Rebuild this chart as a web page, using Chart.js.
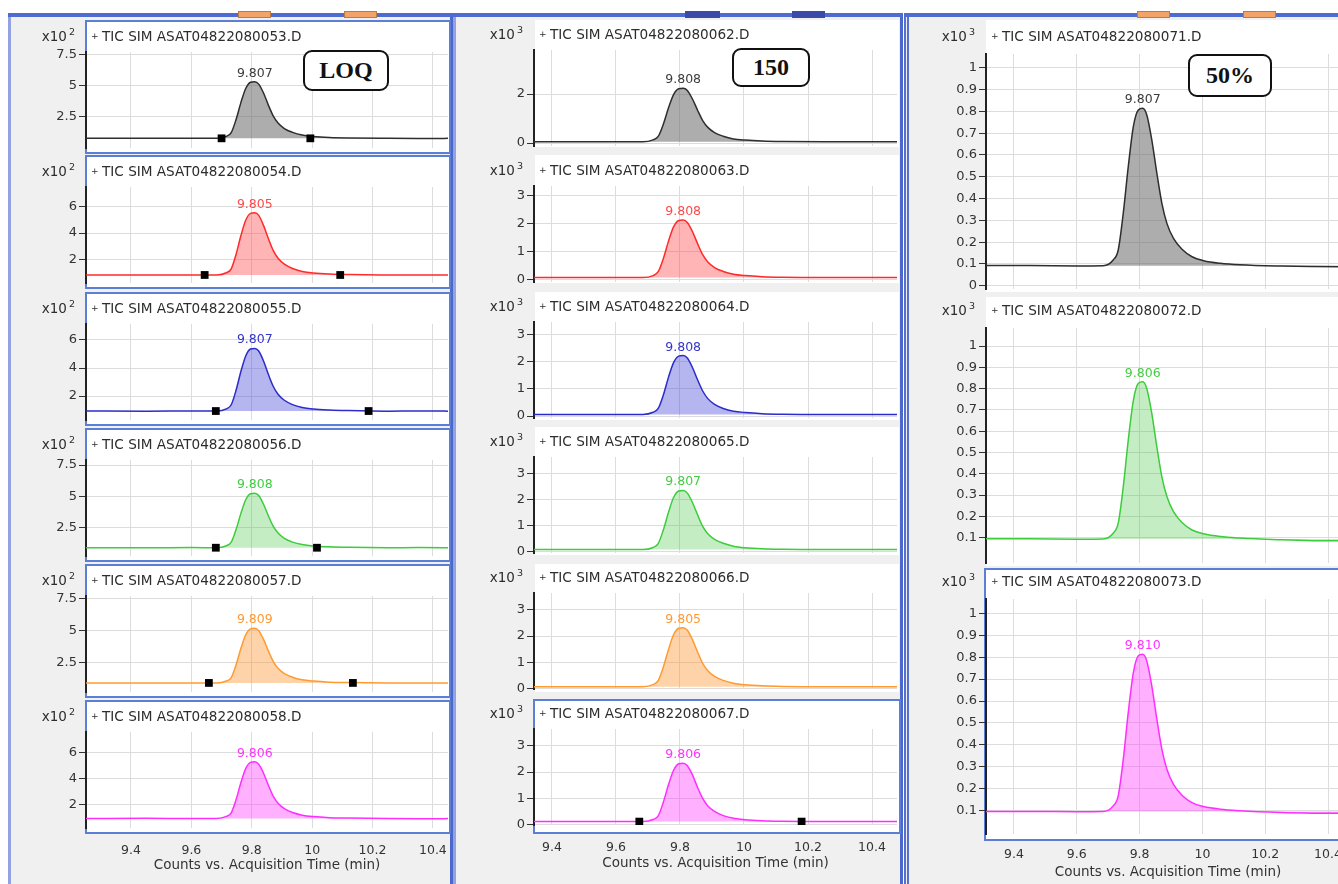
<!DOCTYPE html>
<html><head><meta charset="utf-8">
<script src="https://cdn.jsdelivr.net/npm/chart.js@4.4.1/dist/chart.umd.min.js"></script>
<style>
html,body{margin:0;padding:0;background:#fff;width:1338px;height:884px;overflow:hidden;position:relative;font-family:"DejaVu Sans",sans-serif;}
.col{position:absolute;top:13px;height:880px;background:#f0f0f0;box-sizing:border-box;}
.bar{position:absolute;top:13px;height:4px;background:#4d6bd1;}
.tab{position:absolute;top:11px;height:7px;background:#f2a468;border:1px solid #c07a40;box-sizing:border-box;}
.tabd{position:absolute;top:11px;height:7px;background:#3a4aa8;}
.box{position:absolute;background:#fff;box-sizing:border-box;}
.bb{border:2px solid #5b7fd4;}
canvas{position:absolute;}
.note{position:absolute;z-index:5;box-sizing:border-box;border:2px solid #111;border-radius:9px;background:#fff;font:bold 24px "Liberation Serif",serif;color:#111;display:flex;align-items:center;justify-content:center;}
</style></head><body>
<div class="col" style="left:8px;width:445px;border-left:3px solid #94a2e2;border-right:3px solid #4d68cc;"></div>
<div class="col" style="left:453px;width:450px;border-left:3px solid #94a2e2;border-right:3px solid #4d68cc;"></div>
<div class="col" style="left:904px;width:440px;border-left:5px double #5670d0;"></div>
<div class="bar" style="left:8px;width:445px"></div>
<div class="bar" style="left:453px;width:450px"></div>
<div class="bar" style="left:904px;width:440px"></div>
<div class="tab" style="left:238px;width:33px"></div>
<div class="tab" style="left:344px;width:33px"></div>
<div class="tabd" style="left:685px;width:35px"></div>
<div class="tabd" style="left:792px;width:33px"></div>
<div class="tab" style="left:1137px;width:33px"></div>
<div class="tab" style="left:1243px;width:33px"></div>
<div id="boxes"></div>
<div class="note" style="left:303px;top:50px;width:86px;height:41px;">LOQ</div>
<div class="note" style="left:732px;top:48px;width:78px;height:39px;">150</div>
<div class="note" style="left:1188px;top:54px;width:84px;height:43px;">50%</div>
<script>
// ---------------- DATA ----------------
const times = [9.25, 9.45, 9.60, 9.684, 9.716, 9.732, 9.748, 9.764, 9.78, 9.796, 9.81, 9.823, 9.839, 9.855, 9.871, 9.887, 9.908, 9.935, 9.967, 10.004, 10.057, 10.12, 10.25, 10.35, 10.48];
const xTicks = [9.4, 9.6, 9.8, 10, 10.2, 10.4];
const xTickLabels = ['9.4', '9.6', '9.8', '10', '10.2', '10.4'];
const xAxisTitle = 'Counts vs. Acquisition Time (min)';

// LOQ column (x10^2)
const loqTitles = ['+ TIC SIM ASAT04822080053.D', '+ TIC SIM ASAT04822080054.D', '+ TIC SIM ASAT04822080055.D', '+ TIC SIM ASAT04822080056.D', '+ TIC SIM ASAT04822080057.D', '+ TIC SIM ASAT04822080058.D'];
const loqPeakLabels = ['9.807', '9.805', '9.807', '9.808', '9.809', '9.806'];
const loqColors = ['grey', 'red', 'blue', 'green', 'orange', 'magenta'];
const loqExp = 2;
const loqYTicks = [[2.5, 5, 7.5], [2, 4, 6], [2, 4, 6], [2.5, 5, 7.5], [2.5, 5, 7.5], [2, 4, 6]];
const loqBaselines = [0.78, 0.81, 0.93, 0.90, 0.93, 0.97];
const loqMarkers = [[9.70, 9.994], [9.644, 10.093], [9.681, 10.187], [9.681, 10.016], [9.658, 10.135], []];
const s053 = [0.78,0.79,0.78,0.78,0.94,1.24,2.29,3.66,4.80,5.30,5.35,5.15,4.43,3.46,2.59,2.01,1.57,1.26,1.04,0.93,0.85,0.81,0.78,0.77,0.78];
const s054 = [0.81,0.81,0.80,0.81,0.98,1.28,2.37,3.79,4.97,5.49,5.54,5.34,4.58,3.59,2.68,2.08,1.63,1.30,1.08,0.96,0.88,0.84,0.81,0.80,0.81];
const s055 = [0.93,0.92,0.93,0.93,1.09,1.38,2.41,3.75,4.86,5.36,5.40,5.21,4.50,3.55,2.70,2.13,1.70,1.39,1.18,1.07,1.00,0.96,0.92,0.93,0.92];
const s056 = [0.90,0.90,0.91,0.90,1.06,1.34,2.34,3.64,4.73,5.21,5.25,5.06,4.37,3.45,2.62,2.07,1.65,1.35,1.15,1.04,0.97,0.93,0.90,0.91,0.90];
const s057 = [0.93,0.92,0.93,0.93,1.08,1.35,2.33,3.60,4.66,5.13,5.17,4.99,4.31,3.42,2.61,2.07,1.66,1.37,1.17,1.07,0.99,0.96,0.93,0.92,0.93];
const s058 = [0.97,0.98,0.97,0.97,1.13,1.40,2.40,3.70,4.78,5.26,5.30,5.11,4.43,3.51,2.68,2.13,1.72,1.42,1.22,1.11,1.03,1.00,0.96,0.95,0.96];
const loqSeries = [s053, s054, s055, s056, s057, s058];

// 150 column (x10^3)
const c150Titles = ['+ TIC SIM ASAT04822080062.D', '+ TIC SIM ASAT04822080063.D', '+ TIC SIM ASAT04822080064.D', '+ TIC SIM ASAT04822080065.D', '+ TIC SIM ASAT04822080066.D', '+ TIC SIM ASAT04822080067.D'];
const c150PeakLabels = ['9.808', '9.808', '9.808', '9.807', '9.805', '9.806'];
const c150Colors = ['grey', 'red', 'blue', 'green', 'orange', 'magenta'];
const c150Exp = 3;
const c150YTicks = [[0, 2], [0, 1, 2, 3], [0, 1, 2, 3], [0, 1, 2, 3], [0, 1, 2, 3], [0, 1, 2, 3]];
const c150Baselines = [0.05, 0.06, 0.06, 0.08, 0.06, 0.10];
const c150Markers = [[], [], [], [], [], [9.673, 10.18]];
const s062 = [0.05,0.05,0.05,0.05,0.13,0.27,0.77,1.43,1.98,2.22,2.24,2.15,1.80,1.34,0.92,0.64,0.43,0.28,0.17,0.12,0.08,0.06,0.05,0.05,0.05];
const s063 = [0.06,0.06,0.06,0.06,0.13,0.27,0.74,1.36,1.88,2.11,2.13,2.04,1.71,1.28,0.88,0.62,0.42,0.28,0.18,0.13,0.09,0.07,0.06,0.06,0.06];
const s064 = [0.06,0.06,0.06,0.06,0.14,0.28,0.77,1.42,1.96,2.20,2.22,2.13,1.78,1.33,0.92,0.64,0.43,0.28,0.18,0.13,0.09,0.07,0.06,0.06,0.06];
const s065 = [0.08,0.08,0.08,0.08,0.16,0.31,0.83,1.50,2.07,2.32,2.34,2.24,1.88,1.41,0.97,0.69,0.47,0.32,0.21,0.15,0.11,0.09,0.08,0.08,0.08];
const s066 = [0.06,0.06,0.06,0.06,0.14,0.29,0.81,1.48,2.05,2.30,2.32,2.22,1.86,1.39,0.95,0.67,0.45,0.30,0.19,0.13,0.09,0.07,0.06,0.06,0.06];
const s067 = [0.10,0.10,0.10,0.10,0.18,0.32,0.84,1.51,2.07,2.32,2.34,2.24,1.89,1.41,0.99,0.70,0.49,0.33,0.23,0.17,0.13,0.11,0.10,0.10,0.10];
const c150Series = [s062, s063, s064, s065, s066, s067];

// 50% column (x10^3)
const c50Titles = ['+ TIC SIM ASAT04822080071.D', '+ TIC SIM ASAT04822080072.D', '+ TIC SIM ASAT04822080073.D'];
const c50PeakLabels = ['9.807', '9.806', '9.810'];
const c50Colors = ['grey', 'green', 'magenta'];
const c50Exp = 3;
const c50YTicks = [[0, 0.1, 0.2, 0.3, 0.4, 0.5, 0.6, 0.7, 0.8, 0.9, 1], [0.1, 0.2, 0.3, 0.4, 0.5, 0.6, 0.7, 0.8, 0.9, 1], [0.1, 0.2, 0.3, 0.4, 0.5, 0.6, 0.7, 0.8, 0.9, 1]];
const c50Baselines = [0.092, 0.094, 0.096];
const c50Markers = [[], [], []];
const s071 = [0.092,0.093,0.091,0.092,0.118,0.164,0.332,0.546,0.729,0.806,0.814,0.783,0.668,0.516,0.378,0.286,0.217,0.167,0.133,0.115,0.103,0.096,0.090,0.088,0.087];
const s072 = [0.094,0.095,0.093,0.094,0.121,0.168,0.338,0.559,0.743,0.825,0.832,0.800,0.683,0.527,0.386,0.293,0.222,0.171,0.136,0.118,0.105,0.098,0.090,0.086,0.085];
const s073 = [0.096,0.097,0.095,0.096,0.122,0.168,0.333,0.548,0.727,0.806,0.813,0.782,0.668,0.517,0.380,0.289,0.220,0.171,0.137,0.119,0.107,0.100,0.092,0.089,0.088];
const c50Series = [s071, s072, s073];

// ---------------- STYLE / LAYOUT ----------------
const COLORS = {
  grey:    {line:'#2e2e2e', fill:'rgba(105,105,105,0.55)', label:'#3c3c3c'},
  red:     {line:'#ff2a2a', fill:'rgba(255,70,70,0.40)',   label:'#ff4a4a'},
  blue:    {line:'#2c2cc8', fill:'rgba(70,70,215,0.40)',   label:'#3535cc'},
  green:   {line:'#3ccc3c', fill:'rgba(70,200,70,0.32)',   label:'#44cc44'},
  orange:  {line:'#ff9a30', fill:'rgba(255,150,50,0.42)',  label:'#ff9933'},
  magenta: {line:'#ff2eff', fill:'rgba(255,60,255,0.40)',  label:'#ff33ff'}
};
const FONT = '"DejaVu Sans", sans-serif';

const col1 = {left:0, width:448, yAxisW:86, padTop:32, areaH:96, titleOff:15, xMin:9.251, xMax:10.45, axisTitleOff:37, xLabelPad:15,
  tops:[20,155,292,428,564,700],
  yRange:[[0.0,7.74],[0.2,7.5],[0.29,7.14],[0.24,7.9],[0.225,7.68],[0.24,7.58]]};
const col2 = {left:455, width:442, yAxisW:79, padTop:32, areaH:96, titleOff:15, xMin:9.344, xMax:10.478, axisTitleOff:38, xLabelPad:15,
  tops:[18,154,290,425,561,697],
  yRange:[[-0.12,3.8],[-0.1,3.35],[-0.07,3.45],[-0.05,3.62],[-0.03,3.65],[-0.03,3.65]]};
const col3 = {left:900, width:450, yAxisW:86, padTop:34, areaH:235, titleOff:17, xMin:9.311, xMax:10.47, axisTitleOff:38, xLabelPad:13,
  tops:[20,294,565],
  yRange:[[-0.015,1.063],[-0.019,1.085],[-0.006,1.065]]};

// frames (white panel boxes)
const boxHtml = [];
col1.tops.forEach(t => boxHtml.push(`<div class="box bb" style="left:85px;top:${t}px;width:366px;height:134px"></div>`));
[20,155,292,427,564].forEach((t,i) => boxHtml.push(`<div class="box" style="left:535px;top:${t}px;width:364px;height:${i===0?127:128}px"></div>`));
boxHtml.push(`<div class="box bb" style="left:533px;top:699px;width:368px;height:135px"></div>`);
boxHtml.push(`<div class="box" style="left:986px;top:20px;width:360px;height:272px"></div>`);
boxHtml.push(`<div class="box" style="left:986px;top:297px;width:360px;height:269px"></div>`);
boxHtml.push(`<div class="box bb" style="left:984px;top:568px;width:362px;height:273px"></div>`);
document.getElementById('boxes').innerHTML = boxHtml.join('');

function makePanel(o) {
  const last = o.last;
  const padBottom = last ? 2 : 12;
  const xAxisH = last ? 50 : 0;
  const H = o.padTop + o.areaH + padBottom + xAxisH;
  const cv = document.createElement('canvas');
  cv.width = o.width; cv.height = H;
  cv.style.left = o.left + 'px'; cv.style.top = o.top + 'px';
  document.body.appendChild(cv);
  const c = COLORS[o.color];
  const datasets = [{
    type:'line', data: times.map((t,i)=>({x:t, y:o.series[i]})),
    borderColor:c.line, backgroundColor:c.fill, borderWidth:1.5, pointRadius:0,
    fill:{value:o.baseline}, cubicInterpolationMode:'monotone', order:2
  }];
  if (o.markers.length) datasets.push({
    type:'scatter', data:o.markers.map(t=>({x:t, y:o.baseline})),
    pointStyle:'rect', pointRadius:5.5, backgroundColor:'#000', borderColor:'#000', borderWidth:0, order:1
  });
  const deco = {
    id:'deco',
    afterDatasetsDraw(chart) {
      const ctx = chart.ctx, a = chart.chartArea, xs = chart.scales.x, ys = chart.scales.y;
      ctx.save();
      const ty = a.top - o.titleOff;
      ctx.textBaseline = 'middle';
      ctx.fillStyle = '#2d2d2d';
      ctx.textAlign = 'left';
      ctx.font = '9px ' + FONT;
      ctx.fillText('+', a.left + 5, ty);
      ctx.font = '13.6px ' + FONT;
      ctx.fillText(o.title.replace(/^\+\s*/, ''), a.left + 16, ty);
      ctx.textAlign = 'right';
      ctx.font = '9.5px ' + FONT;
      const sup = String(o.exp);
      const supW = ctx.measureText(sup).width;
      ctx.fillText(sup, a.left - 11, ty - 4);
      ctx.font = '13.5px ' + FONT;
      ctx.fillText('x10', a.left - 13 - supW, ty);
      let mi = 0;
      o.series.forEach((v,i)=>{ if (v > o.series[mi]) mi = i; });
      ctx.textAlign = 'center'; ctx.textBaseline = 'bottom'; ctx.fillStyle = c.label;
      ctx.font = '12.5px ' + FONT;
      ctx.fillText(o.peak, xs.getPixelForValue(times[mi]), ys.getPixelForValue(o.series[mi]) - 2);
      if (last) {
        ctx.fillStyle = '#333'; ctx.textBaseline = 'middle';
        ctx.font = '13.5px ' + FONT;
        ctx.fillText(xAxisTitle, (a.left + a.right) / 2, a.bottom + o.axisTitleOff);
      }
      ctx.restore();
    }
  };
  new Chart(cv, {
    type:'line',
    data:{datasets},
    options:{
      responsive:false, animation:false, events:[],
      layout:{autoPadding:false, padding:{top:o.padTop, bottom:padBottom, left:0, right:0}},
      plugins:{legend:{display:false}, tooltip:{enabled:false}, title:{display:false}},
      scales:{
        x:{type:'linear', min:o.xMin, max:o.xMax,
          afterBuildTicks:s=>{ s.ticks = xTicks.map(v=>({value:v})); },
          afterFit:s=>{ s.height = xAxisH; s.paddingLeft = 0; s.paddingRight = 0; },
          grid:{color:'#dcdcdc', lineWidth:1, drawTicks:true, tickLength:o.xLabelPad, tickColor:'rgba(0,0,0,0)'},
          border:{display:false},
          ticks:{display:last, padding:0, autoSkip:false, maxRotation:0, color:'#333',
            font:{family:FONT, size:12.5}, callback:(v,i)=>xTickLabels[i]}},
        y:{type:'linear', min:o.yMin, max:o.yMax,
          afterBuildTicks:s=>{ s.ticks = o.yTicks.map(v=>({value:v})); },
          afterFit:s=>{ s.width = o.yAxisW; },
          grid:{color:'#dcdcdc', lineWidth:1, tickColor:'#333', tickLength:7},
          border:{display:true, color:'#222', width:2},
          ticks:{padding:2, color:'#333', font:{family:FONT, size:13}, callback:v=>String(v)}}
      }
    },
    plugins:[deco]
  });
}

function buildColumn(col, titles, peaks, colors, exp, yTicks, baselines, markers, series) {
  titles.forEach((t,i)=>{
    makePanel({
      left:col.left, top:col.tops[i], width:col.width, yAxisW:col.yAxisW, padTop:col.padTop, areaH:col.areaH,
      titleOff:col.titleOff, xMin:col.xMin, xMax:col.xMax, axisTitleOff:col.axisTitleOff, xLabelPad:col.xLabelPad,
      yMin:col.yRange[i][0], yMax:col.yRange[i][1], yTicks:yTicks[i],
      title:t, peak:peaks[i], color:colors[i], exp:exp, baseline:baselines[i], markers:markers[i], series:series[i],
      last: i === titles.length - 1
    });
  });
}
buildColumn(col1, loqTitles, loqPeakLabels, loqColors, loqExp, loqYTicks, loqBaselines, loqMarkers, loqSeries);
buildColumn(col2, c150Titles, c150PeakLabels, c150Colors, c150Exp, c150YTicks, c150Baselines, c150Markers, c150Series);
buildColumn(col3, c50Titles, c50PeakLabels, c50Colors, c50Exp, c50YTicks, c50Baselines, c50Markers, c50Series);
</script>
</body></html>
